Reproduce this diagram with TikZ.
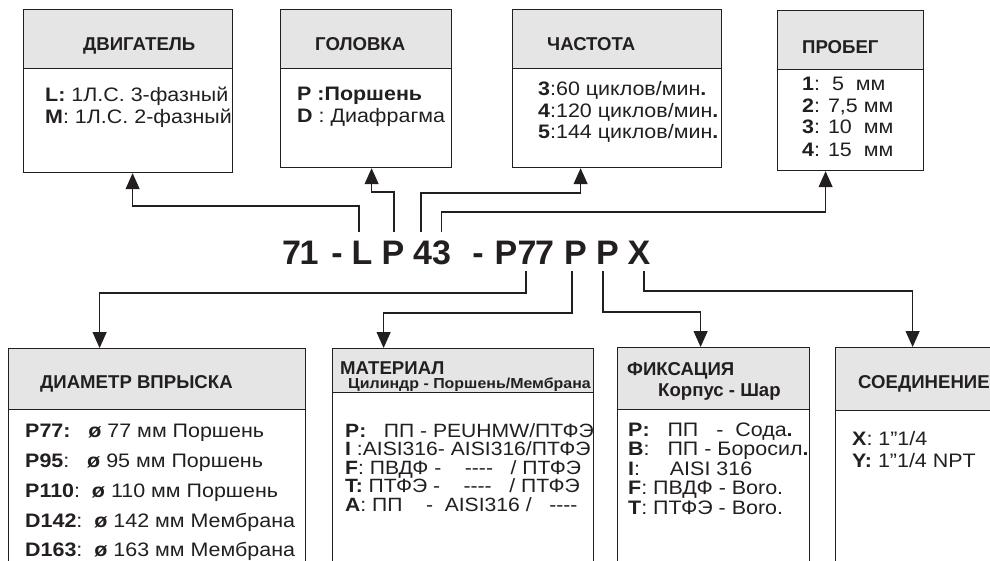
\documentclass[tikz,border=0pt]{standalone}
\usepackage{fontspec}
\setmainfont{Liberation Sans}
\newfontfamily\widefont{Liberation Sans}[FakeStretch=1.1]
\usetikzlibrary{arrows.meta}
\definecolor{hdrgray}{RGB}{229,229,230}
\definecolor{ink}{RGB}{35,31,32}
\newcommand\fourdash{-\kern0pt-\kern0pt-\kern0pt-}
\begin{document}
\begin{tikzpicture}[x=1pt,y=-1pt,
  hdr/.style={draw=ink, fill=hdrgray, line width=1.2pt, anchor=north west, inner sep=0pt},
  bod/.style={draw=ink, fill=white, line width=1.2pt, anchor=north west, inner sep=0pt},
  htxt/.style={font=\fontsize{18.6}{18.6}\selectfont\bfseries, text=ink, anchor=base west, inner sep=0pt, text height=13.5pt, text depth=1pt},
  stxt/.style={font=\widefont\fontsize{14.5}{14.5}\selectfont\bfseries, text=ink, anchor=base west, inner sep=0pt, text height=10.5pt, text depth=1pt},
  btxt/.style={font=\widefont\fontsize{19.5}{19.5}\selectfont, text=ink, anchor=base west, inner sep=0pt, text height=14pt, text depth=3pt},
  ctxt/.style={font=\widefont\fontsize{19.5}{19.5}\selectfont, text=ink, anchor=base west, inner sep=0pt, text height=14pt, text depth=1.5pt},
  dtxt/.style={font=\widefont\fontsize{19.2}{19.2}\selectfont, text=ink, anchor=base west, inner sep=0pt, text height=13.8pt, text depth=1.5pt},
  codech/.style={font=\fontsize{34}{34}\selectfont\bfseries, text=ink, anchor=base, inner sep=0pt, outer sep=0pt, outer ysep=7pt, text height=25pt, text depth=0pt},
  conn/.style={draw=ink, line width=1.2pt},
  arr/.style={conn, -{Triangle[width=14pt,length=16pt]}}
]
\path[use as bounding box] (0,0) rectangle (990,560);
\clip (0,0) rectangle (990,560);

% ---- top boxes
\node[bod, minimum width=209pt, minimum height=104pt] (b1) at (23,68) {};
\node[hdr, minimum width=209pt, minimum height=59pt] (h1) at (23,9) {};
\node[bod, minimum width=171pt, minimum height=99pt] (b2) at (280,68) {};
\node[hdr, minimum width=171pt, minimum height=59pt] (h2) at (280,9) {};
\node[bod, minimum width=209pt, minimum height=99pt] (b3) at (512,68) {};
\node[hdr, minimum width=209pt, minimum height=59pt] (h3) at (512,9) {};
\node[bod, minimum width=146pt, minimum height=101pt] (b4) at (777,69) {};
\node[hdr, minimum width=146pt, minimum height=59pt] (h4) at (777,10) {};

% ---- bottom boxes
\node[bod, minimum width=297pt, minimum height=170pt] (b5) at (8,409) {};
\node[hdr, minimum width=297pt, minimum height=61pt] (h5) at (8,348) {};
\node[bod, minimum width=261pt, minimum height=180pt] (b6) at (332,392) {};
\node[hdr, minimum width=261pt, minimum height=44pt] (h6) at (332,348) {};
\node[bod, minimum width=192pt, minimum height=170pt] (b7) at (617,409) {};
\node[hdr, minimum width=192pt, minimum height=62pt] (h7) at (617,347) {};
\node[bod, minimum width=170pt, minimum height=170pt] (b8) at (835,410) {};
\node[hdr, minimum width=170pt, minimum height=63pt] (h8) at (835,347) {};

% ---- header texts
\node[htxt] (t1h) at (83,50) {ДВИГАТЕЛЬ};
\node[htxt] (t2h) at (315,50) {ГОЛОВКА};
\node[htxt] (t3h) at (547,50) {ЧАСТОТА};
\node[htxt] (t4h) at (802,53) {ПРОБЕГ};
\node[htxt] (t5h) at (40,388) {ДИАМЕТР ВПРЫСКА};
\node[htxt] (t6h) at (340,374) {МАТЕРИАЛ};
\node[stxt] (t6s) at (348,388.5) {Цилиндр - Поршень/Мембрана};
\node[htxt] (t7h) at (627,375) {ФИКСАЦИЯ};
\node[htxt] (t7s) at (658,396) {Корпус - Шар};
\node[htxt] (t8h) at (858,388) {СОЕДИНЕНИЕ};

% ---- body texts, top
\node[btxt] (t1a) at (45,101) {\textbf{L:} 1Л.С. 3-фазный};
\node[btxt] (t1b) at (45,123) {\textbf{M}: 1Л.С. 2-фазный};
\node[btxt] (t2a) at (297,100) {\textbf{P :Поршень}};
\node[btxt] (t2b) at (297,122) {\textbf{D} : Диафрагма};
\node[btxt] (t3a) at (538,95) {\textbf{3}:60 циклов/мин\textbf{.}};
\node[btxt] (t3b) at (538,117) {\textbf{4}:120 циклов/мин\textbf{.}};
\node[btxt] (t3c) at (538,138) {\textbf{5}:144 циклов/мин\textbf{.}};
\node[btxt] (t4a) at (802,90) {\textbf{1}:~~5~~мм};
\node[btxt] (t4b) at (802,112) {\textbf{2}: 7,5 мм};
\node[btxt] (t4c) at (802,133) {\textbf{3}: 10~~мм};
\node[btxt] (t4d) at (802,156) {\textbf{4}: 15~~мм};

% ---- body texts, bottom
\node[ctxt] (t5a) at (25,437) {\textbf{P77:}~~~\textbf{ø} 77 мм Поршень};
\node[ctxt] (t5b) at (25,467) {\textbf{P95}:~~~\textbf{ø} 95 мм Поршень};
\node[ctxt] (t5c) at (25,497) {\textbf{P110}:~~\textbf{ø} 110 мм Поршень};
\node[ctxt] (t5d) at (25,527) {\textbf{D142}:~~\textbf{ø} 142 мм Мембрана};
\node[ctxt] (t5e) at (25,556) {\textbf{D163}:~~\textbf{ø} 163 мм Мембрана};

\node[dtxt] (t6a) at (345,437) {\textbf{P:}~~~ПП - PEUHMW/ПТФЭ};
\node[dtxt] (t6b) at (345,455.5) {\textbf{I} :AISI316- AISI316/ПТФЭ};
\node[dtxt] (t6c) at (345,474) {\textbf{F}: ПВДФ -~~~~\fourdash~~~/ ПТФЭ};
\node[dtxt] (t6d) at (345,492.5) {\textbf{T:} ПТФЭ -~~~~\fourdash~~~/ ПТФЭ};
\node[dtxt] (t6e) at (345,511) {\textbf{A}: ПП~~~~-~~AISI316 /~~~\fourdash};

\node[ctxt] (t7a) at (628,436) {\textbf{P:}~~~ПП~~~-~~Сода\textbf{.}};
\node[ctxt] (t7b) at (628,455.5) {\textbf{B}:~~~ПП - Боросил\textbf{.}};
\node[ctxt] (t7c) at (628,475) {\textbf{I}:~~~~~AISI 316};
\node[ctxt] (t7d) at (628,494.5) {\textbf{F}: ПВДФ - Boro.};
\node[ctxt] (t7e) at (628,514) {\textbf{T}: ПТФЭ - Boro.};

\node[btxt] (t8a) at (852,445) {\textbf{X}: 1”1/4};
\node[btxt] (t8b) at (852,467) {\textbf{Y:} 1”1/4 NPT};

% ---- code characters
\node[codech] (c7) at (291.5,264) {7};
\node[codech] (c1) at (309,264) {1};
\node[codech] (cd1) at (337,264) {-};
\node[codech] (cL) at (362,264) {L};
\node[codech] (cP) at (393,264) {P};
\node[codech] (c4) at (422.5,264) {4};
\node[codech] (c3) at (441.5,264) {3};
\node[codech] (cd2) at (478,264) {-};
\node[codech] (cPd) at (506,264) {P};
\node[codech] (c7a) at (527,264) {7};
\node[codech] (c7b) at (544.5,264) {7};
\node[codech] (cPm) at (575.5,264) {P};
\node[codech] (cPf) at (607.5,264) {P};
\node[codech] (cX) at (639,264) {X};

% ---- connectors
\draw[arr] ([xshift=-3pt]cL.north) -- ++(0,-26) -| ([xshift=4.5pt]b1.south);
\draw[arr] ([xshift=1pt]cP.north) -- ++(0,-40) -| ([xshift=5.5pt]b2.south);
\draw[arr] ([xshift=-1.5pt]c4.north) -- ++(0,-39) -| ([xshift=-36.5pt]b3.south);
\draw[arr] (c3.north) -- ++(0,-20) -| ([xshift=-25pt]b4.south);
\draw[arr] ([xshift=-1pt]c7a.south) -- ++(0,22) -| ([xshift=-57.5pt]h5.north);
\draw[arr] ([xshift=-3.5pt]cPm.south) -- ++(0,42) -| ([xshift=-79.5pt]h6.north);
\draw[arr] ([xshift=-4.5pt]cPf.south) -- ++(0,41) -| ([xshift=-13pt]h7.north);
\draw[arr] ([xshift=5pt]cX.south) -- ++(0,20) -| ([xshift=-8pt]h8.north);
\end{tikzpicture}
\end{document}
